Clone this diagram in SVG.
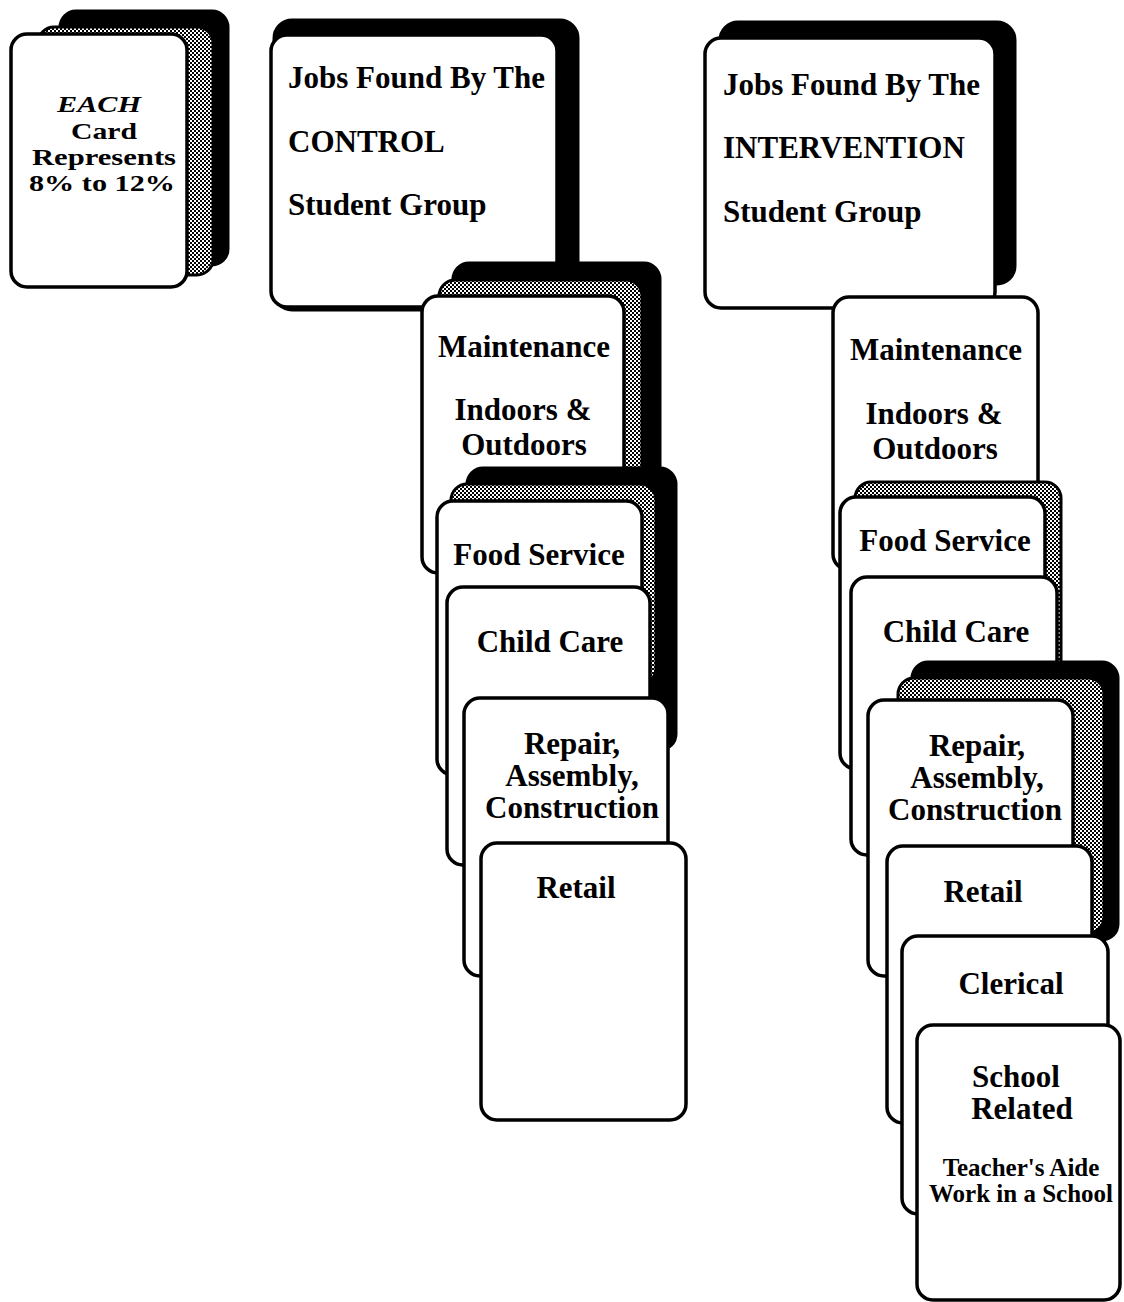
<svg xmlns="http://www.w3.org/2000/svg" width="1124" height="1302" viewBox="0 0 1124 1302">
<defs>
<pattern id="dither" width="4" height="4" patternUnits="userSpaceOnUse">
<rect width="4" height="4" fill="#ffffff"/>
<rect x="0" y="0" width="2" height="2" fill="#000"/>
<rect x="2" y="2" width="2" height="2" fill="#000"/>
</pattern>
<style>
.back{fill:#000;stroke:#000;stroke-width:3}
.mid{fill:url(#dither);stroke:#000;stroke-width:3}
.card{fill:#fff;stroke:#000;stroke-width:3.5}
text{font-family:"Liberation Serif","Times New Roman",serif;font-weight:bold;fill:#000}
.t{font-size:31px;text-anchor:middle}
.h{font-size:31px}
.e{font-size:24px;text-anchor:middle}
.s{font-size:25px;text-anchor:middle}
</style>
</defs>
<rect width="1124" height="1302" fill="#fff"/>
<g id="connectors"/>

<g id="legend-card">
<rect class="back" x="60" y="11" width="168" height="254" rx="16"/>
<rect class="mid" x="38" y="27" width="175" height="248" rx="16"/>
<rect class="card" x="11" y="34" width="176" height="253" rx="16"/>
<text class="e" x="99" y="112" font-style="italic" textLength="84" lengthAdjust="spacingAndGlyphs">EACH</text>
<text class="e" x="104" y="139" textLength="66" lengthAdjust="spacingAndGlyphs">Card</text>
<text class="e" x="104" y="165" textLength="144" lengthAdjust="spacingAndGlyphs">Represents</text>
<text class="e" x="102" y="191" textLength="146" lengthAdjust="spacingAndGlyphs">8% to 12%</text>
</g>

<g id="control-header">
<rect class="back" x="274" y="20" width="304" height="290" rx="18"/>
<rect class="card" x="271" y="35" width="286" height="272" rx="16"/>
<text class="h" x="288" y="88">Jobs Found By The</text>
<text class="h" x="288" y="152">CONTROL</text>
<text class="h" x="288" y="215">Student Group</text>
</g>

<g id="control-maintenance">
<rect class="back" x="453" y="263" width="207" height="240" rx="16"/>
<rect class="mid" x="439" y="280" width="203" height="220" rx="16"/>
<rect class="card" x="422" y="296" width="202" height="277" rx="16"/>
<text class="t" x="524" y="357">Maintenance</text>
<text class="t" x="523" y="420">Indoors &amp;</text>
<text class="t" x="524" y="455">Outdoors</text>
</g>

<g id="control-food-service">
<rect class="back" x="467" y="468" width="209" height="282" rx="16"/>
<rect class="mid" x="451" y="484" width="205" height="200" rx="16"/>
<rect class="card" x="437" y="501" width="205" height="274" rx="16"/>
<text class="t" x="539" y="565">Food Service</text>
</g>

<g id="control-child-care">
<rect class="card" x="447" y="587" width="203" height="278" rx="16"/>
<text class="t" x="550" y="652">Child Care</text>
</g>

<g id="control-repair">
<rect class="card" x="464" y="698" width="204" height="278" rx="16"/>
<text class="t" x="572" y="754">Repair,</text>
<text class="t" x="572" y="786">Assembly,</text>
<text class="t" x="572" y="818">Construction</text>
</g>

<g id="control-retail">
<rect class="card" x="481" y="843" width="205" height="277" rx="16"/>
<text class="t" x="576" y="898">Retail</text>
</g>

<g id="intervention-header">
<rect class="back" x="720" y="22" width="295" height="262" rx="18"/>
<rect class="card" x="705" y="38" width="290" height="270" rx="16"/>
<text class="h" x="723" y="95">Jobs Found By The</text>
<text class="h" x="723" y="158">INTERVENTION</text>
<text class="h" x="723" y="222">Student Group</text>
</g>

<g id="intervention-maintenance">
<rect class="card" x="833" y="297" width="205" height="273" rx="16"/>
<text class="t" x="936" y="360">Maintenance</text>
<text class="t" x="934" y="424">Indoors &amp;</text>
<text class="t" x="935" y="459">Outdoors</text>
</g>

<g id="intervention-food-service">
<rect class="mid" x="855" y="482" width="206" height="280" rx="16"/>
<rect class="card" x="840" y="497" width="205" height="272" rx="16"/>
<text class="t" x="945" y="551">Food Service</text>
</g>

<g id="intervention-child-care">
<rect class="card" x="851" y="577" width="206" height="278" rx="16"/>
<text class="t" x="956" y="642">Child Care</text>
</g>

<g id="intervention-repair">
<rect class="back" x="912" y="662" width="206" height="278" rx="16"/>
<rect class="mid" x="898" y="678" width="206" height="255" rx="16"/>
<rect class="card" x="868" y="700" width="205" height="276" rx="16"/>
<text class="t" x="977" y="756">Repair,</text>
<text class="t" x="977" y="788">Assembly,</text>
<text class="t" x="975" y="820">Construction</text>
</g>

<g id="intervention-retail">
<rect class="card" x="887" y="846" width="205" height="277" rx="16"/>
<text class="t" x="983" y="902">Retail</text>
</g>

<g id="intervention-clerical">
<rect class="card" x="902" y="936" width="206" height="278" rx="16"/>
<text class="t" x="1011" y="994">Clerical</text>
</g>

<g id="intervention-school-related">
<rect class="card" x="917" y="1025" width="203" height="275" rx="16"/>
<text class="t" x="1016" y="1087">School</text>
<text class="t" x="1022" y="1119">Related</text>
<text class="s" x="1021" y="1176">Teacher's Aide</text>
<text class="s" x="1021" y="1202">Work in a School</text>
</g>
</svg>
